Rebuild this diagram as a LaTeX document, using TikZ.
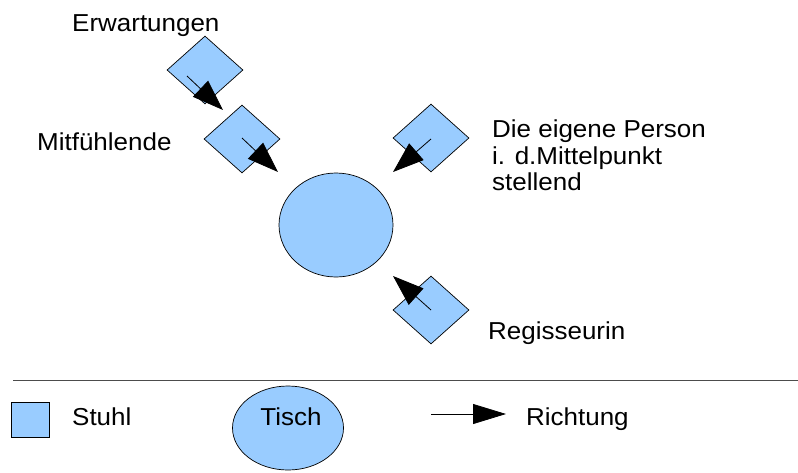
\documentclass[tikz,border=0pt]{standalone}
\usepackage{fontspec}
\setmainfont{Liberation Sans}[FakeStretch=1.06]
\usetikzlibrary{shapes.geometric,arrows.meta}
\definecolor{seatblue}{HTML}{99CCFF}
\tikzset{
  chair/.style={shape=diamond, draw=black, line width=0.7pt, fill=seatblue, minimum width=76pt, minimum height=68pt, inner sep=0pt},
  tablebox/.style={shape=ellipse, draw=black, line width=0.7pt, fill=seatblue, inner sep=0pt},
  dirarrow/.style={line width=0.8pt, -{Triangle[length=31pt,width=22pt]}},
  lbl/.style={inner sep=0pt, anchor=base west, font=\fontsize{24.5}{26.5}\selectfont},
}
\begin{document}
\begin{tikzpicture}[x=1pt,y=-1pt]
\useasboundingbox (0,0) rectangle (798,472);
% table
\node[tablebox, minimum width=114pt, minimum height=104pt] (table) at (336,225) {};
% chairs
\node[chair] (c1) at (205,70) {};
\node[chair] (c2) at (242,139) {};
\node[chair] (c3) at (431,138) {};
\node[chair] (c4) at (431,310) {};
% arrow end points
\coordinate (s1) at (187,76);  \coordinate (t1) at (223,110);
\coordinate (s2) at (242,138); \coordinate (t2) at (278,172);
\coordinate (s3) at (431,139); \coordinate (t3) at (393,172);
\coordinate (s4) at (431,310); \coordinate (t4) at (393,276);
\draw[dirarrow] (s1) -- (t1);
\draw[dirarrow] (s2) -- (t2);
\draw[dirarrow] (s3) -- (t3);
\draw[dirarrow] (s4) -- (t4);
% labels
\node[lbl] (erw) at (72,31) {Erwartungen};
\node[lbl] (mit) at (37,150) {Mitfühlende};
\node[lbl] (die1) at (492,137) {Die eigene Person};
\node[lbl] (die2) at (492,164) {i. d.Mittelpunkt};
\node[lbl] (die3) at (492,190) {stellend};
\node[lbl] (reg) at (488,339) {Regisseurin};
% legend
\coordinate (sepL) at (13,380); \coordinate (sepR) at (798,380);
\draw[line width=0.8pt, black!70] (sepL) -- (sepR);
\node[draw=black, line width=0.7pt, fill=seatblue, minimum width=38pt, minimum height=35pt, inner sep=0pt] (legchair) at (30,419.5) {};
\node[lbl] (stuhl) at (72,425) {Stuhl};
\node[tablebox, minimum width=111pt, minimum height=84pt] (legtable) at (288,428) {};
\node[inner sep=0pt, anchor=base, font=\fontsize{24.5}{26.5}\selectfont] (tisch) at (291,425) {Tisch};
\coordinate (la) at (431,414); \coordinate (lb) at (506,414);
\draw[line width=0.8pt, -{Triangle[length=33pt,width=20pt]}] (la) -- (lb);
\node[lbl] (richt) at (526,425) {Richtung};
\end{tikzpicture}
\end{document}
